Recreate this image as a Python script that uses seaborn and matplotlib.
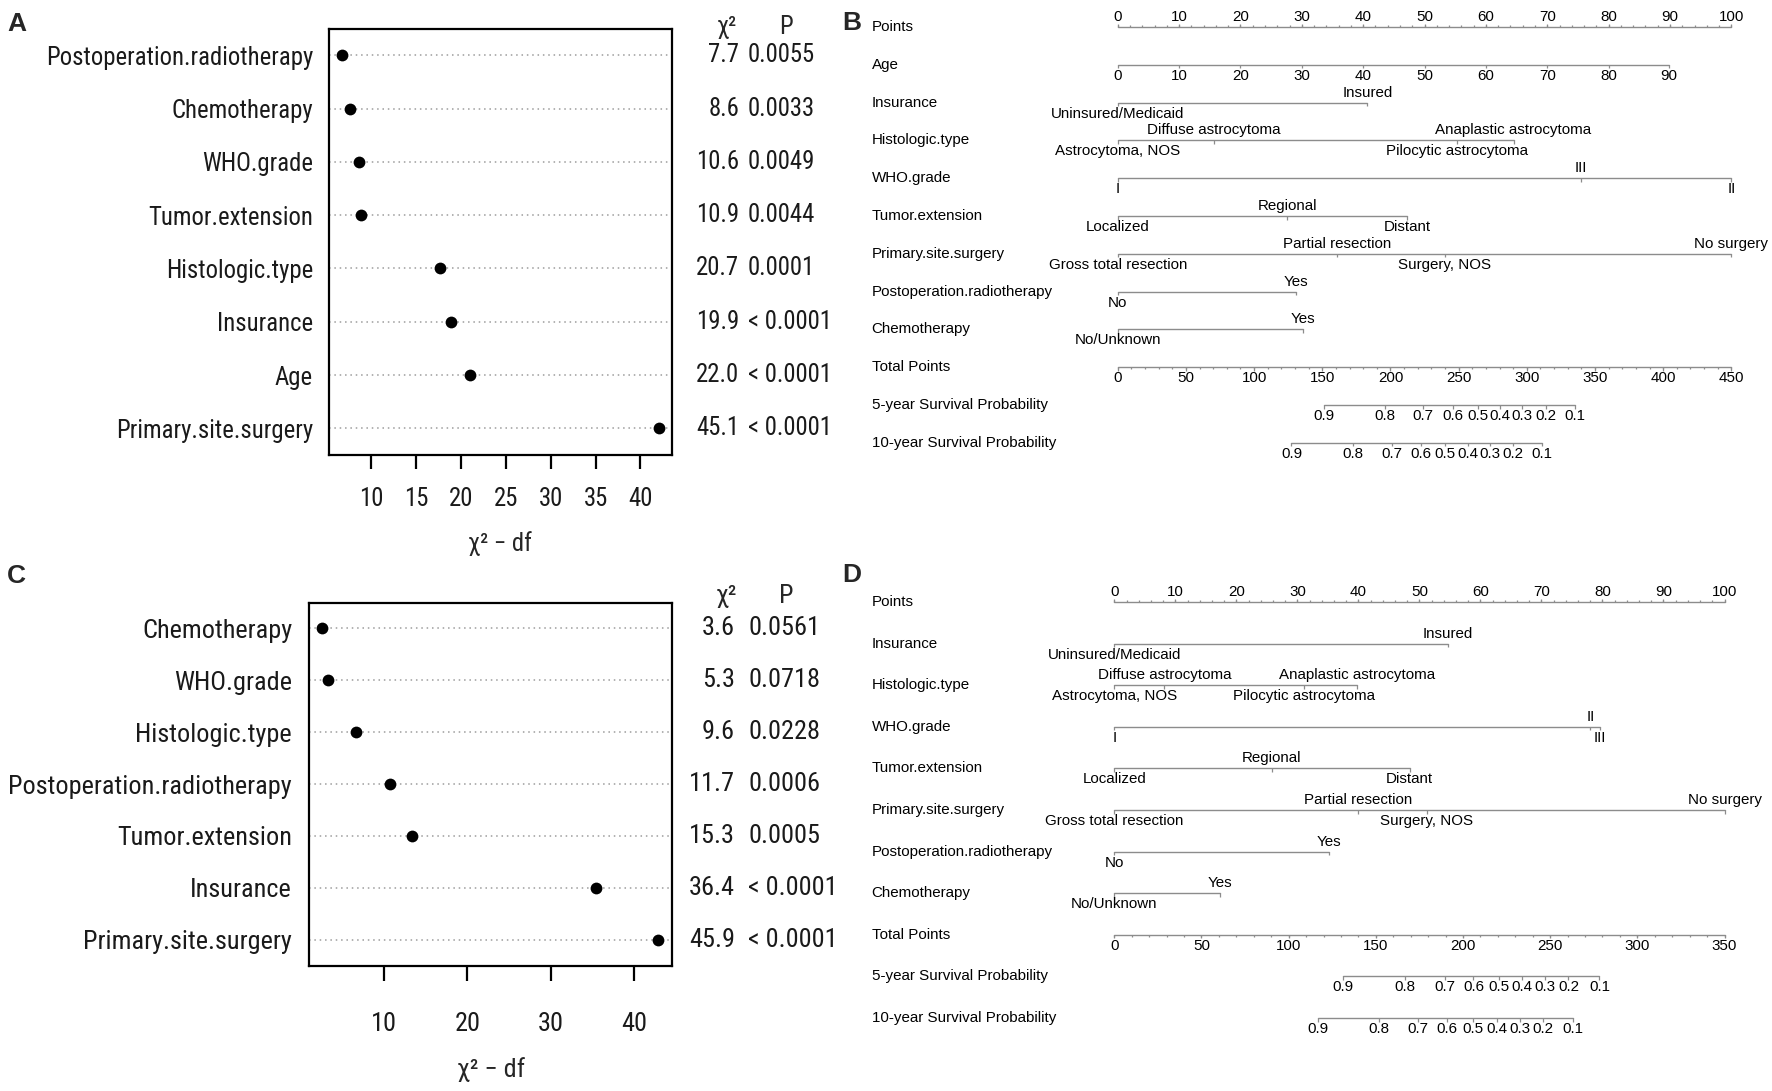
import numpy as np
import pandas as pd
import matplotlib
matplotlib.use("Agg")
import matplotlib.pyplot as plt
import seaborn as sns
from matplotlib import font_manager, transforms
from matplotlib.font_manager import FontProperties
from matplotlib.textpath import TextPath

# ---------------- data: panel A (anova dot chart) ----------------
a_vars = ["Postoperation.radiotherapy", "Chemotherapy", "WHO.grade", "Tumor.extension",
          "Histologic.type", "Insurance", "Age", "Primary.site.surgery"]
a_chi2 = [7.7, 8.6, 10.6, 10.9, 20.7, 19.9, 22.0, 45.1]
a_df = [1, 1, 2, 2, 3, 1, 1, 3]
a_p = ["0.0055", "0.0033", "0.0049", "0.0044", "0.0001", "< 0.0001", "< 0.0001", "< 0.0001"]
a_ticks = [10, 15, 20, 25, 30, 35, 40]

# ---------------- data: panel C ----------------
c_vars = ["Chemotherapy", "WHO.grade", "Histologic.type", "Postoperation.radiotherapy",
          "Tumor.extension", "Insurance", "Primary.site.surgery"]
c_chi2 = [3.6, 5.3, 9.6, 11.7, 15.3, 36.4, 45.9]
c_df = [1, 2, 3, 1, 2, 1, 3]
c_p = ["0.0561", "0.0718", "0.0228", "0.0006", "0.0005", "< 0.0001", "< 0.0001"]
c_ticks = [10, 20, 30, 40]

# ---------------- data: panel B (nomogram) ----------------
points_ticks = [0, 10, 20, 30, 40, 50, 60, 70, 80, 90, 100]
b_age_labels = [0, 10, 20, 30, 40, 50, 60, 70, 80, 90]
b_age_points = [0, 10, 20, 30, 40, 50, 60, 70, 80, 89.8]
b_ins_labels = ["Uninsured/Medicaid", "Insured"]
b_ins_points = [0, 40.7]
b_hist_labels = ["Astrocytoma, NOS", "Diffuse astrocytoma", "Pilocytic astrocytoma", "Anaplastic astrocytoma"]
b_hist_points = [0, 15.7, 55.3, 64.5]
b_who_labels = ["I", "III", "II"]
b_who_points = [0, 75.5, 100]
b_ext_labels = ["Localized", "Regional", "Distant"]
b_ext_points = [0, 27.6, 47.2]
b_surg_labels = ["Gross total resection", "Partial resection", "Surgery, NOS", "No surgery"]
b_surg_points = [0, 35.7, 53.3, 100]
b_rt_labels = ["No", "Yes"]
b_rt_points = [0, 29.0]
b_chemo_labels = ["No/Unknown", "Yes"]
b_chemo_points = [0, 30.2]
b_total_ticks = [0, 50, 100, 150, 200, 250, 300, 350, 400, 450]
surv_labels = ["0.9", "0.8", "0.7", "0.6", "0.5", "0.4", "0.3", "0.2", "0.1"]
b_surv5_total = [151.3, 196.1, 224.0, 245.6, 263.9, 280.3, 296.7, 314.1, 335.1]
b_surv10_total = [127.4, 172.2, 201.0, 222.1, 239.9, 256.6, 272.9, 290.0, 311.2]

# ---------------- data: panel D (nomogram) ----------------
d_ins_labels = ["Uninsured/Medicaid", "Insured"]
d_ins_points = [0, 54.7]
d_hist_labels = ["Astrocytoma, NOS", "Diffuse astrocytoma", "Pilocytic astrocytoma", "Anaplastic astrocytoma"]
d_hist_points = [0, 8.2, 31.1, 39.8]
d_who_labels = ["I", "II", "III"]
d_who_points = [0, 78.0, 79.6]
d_ext_labels = ["Localized", "Regional", "Distant"]
d_ext_points = [0, 25.8, 48.4]
d_surg_labels = ["Gross total resection", "Partial resection", "Surgery, NOS", "No surgery"]
d_surg_points = [0, 39.9, 51.2, 100]
d_rt_labels = ["No", "Yes"]
d_rt_points = [0, 35.2]
d_chemo_labels = ["No/Unknown", "Yes"]
d_chemo_points = [0, 17.3]
d_total_ticks = [0, 50, 100, 150, 200, 250, 300, 350]
d_surv5_total = [131.4, 166.8, 189.4, 206.0, 220.8, 234.1, 247.1, 260.5, 278.3]
d_surv10_total = [116.7, 152.0, 174.4, 190.7, 205.6, 219.4, 232.8, 246.1, 263.3]

# ---------------- styling ----------------
sns.set_theme(style="white")
plt.rcParams['font.family'] = ['Liberation Sans', 'DejaVu Sans']

ttf = font_manager.fontManager.ttflist
def has(name):
    return any(f.name == name for f in ttf)

if has('Liberation Sans Narrow'):
    NARROW_KW = dict(family=['Liberation Sans Narrow', 'DejaVu Sans'])
elif has('Roboto Condensed'):
    NARROW_KW = dict(family=['Roboto Condensed', 'DejaVu Sans'])
else:
    cands = [f for f in ttf if f.name == 'DejaVu Sans' and 'ondensed' in f.fname
             and 'Bold' not in f.fname and 'Oblique' not in f.fname]
    if cands:
        NARROW_KW = dict(fname=cands[0].fname)
    else:
        NARROW_KW = dict(family=['Liberation Sans', 'DejaVu Sans'])
ARIAL_KW = dict(family=['Liberation Sans', 'DejaVu Sans'])

def fit_size(kw, text, target_px):
    fp = FontProperties(size=10, **kw)
    w = TextPath((0, 0), text, prop=fp).get_extents().width * 100 / 72
    return 10 * target_px / w

W, H = 1772, 1091
fig = plt.figure(figsize=(W / 100, H / 100), dpi=100)
fig.patch.set_facecolor('white')

def ax_px(l, t, r, b):
    return fig.add_axes([l / W, 1 - b / H, (r - l) / W, (b - t) / H])

# ---------------- dot chart panels ----------------
def dot_panel(box, vars_, chi2, df, pvals, ticks, label_w, ylab_pad, tick_len, tick_pad,
              chi_right, p_left, head_y, chi_head_x, p_head_x, xlab_xy):
    l, t, r, b = box
    ax = ax_px(l, t, r, b)
    n = len(vars_)
    x = np.array(chi2) - np.array(df)
    data = pd.DataFrame({'variable': vars_, 'x': x, 'row': np.arange(n)})
    lo, hi = x.min(), x.max()
    e = 0.04 * (hi - lo)
    ax.hlines(data['row'], lo - e, hi + e, colors='#9c9c9c', linestyles=(0, (1, 2.5)),
              linewidth=1.1, zorder=1)
    sns.scatterplot(data=data, x='x', y='row', ax=ax, color='black', s=72,
                    linewidth=0, zorder=3, legend=False)
    ax.set_xlim(lo - e, hi + e)
    ax.set_ylim(n - 0.5, -0.5)
    fs = fit_size(NARROW_KW, 'Postoperation.radiotherapy', label_w)
    fp = FontProperties(size=fs, **NARROW_KW)
    ax.set_yticks(np.arange(n))
    ax.set_yticklabels(vars_, fontproperties=fp, color='#1a1a1a')
    ax.set_xticks(ticks)
    ax.set_xticklabels([str(v) for v in ticks], fontproperties=fp, color='#1a1a1a')
    ax.tick_params(axis='y', length=0, pad=ylab_pad * 0.72, left=False)
    ax.tick_params(axis='x', length=tick_len * 0.72, width=1.6, direction='out',
                   pad=tick_pad * 0.72, color='black', bottom=True)
    ax.set_xlabel('')
    ax.set_ylabel('')
    ax.grid(False)
    for s in ax.spines.values():
        s.set_visible(True)
        s.set_color('black')
        s.set_linewidth(1.6)
    tr = transforms.blended_transform_factory(fig.transFigure, ax.transData)
    for i in range(n):
        ax.text(chi_right / W, i, f'{chi2[i]:.1f}', transform=tr, ha='right', va='center',
                fontproperties=fp, color='#1a1a1a', clip_on=False)
        ax.text(p_left / W, i, pvals[i], transform=tr, ha='left', va='center',
                fontproperties=fp, color='#1a1a1a', clip_on=False)
    fig.text(chi_head_x / W, 1 - head_y / H, 'χ²', ha='center', va='center', fontproperties=fp)
    fig.text(p_head_x / W, 1 - head_y / H, 'P', ha='center', va='center', fontproperties=fp)
    fig.text(xlab_xy[0] / W, 1 - xlab_xy[1] / H, 'χ² − df', ha='center', va='center', fontproperties=fp)
    return ax

dot_panel((329, 28.7, 672, 455), a_vars, a_chi2, a_df, a_p, a_ticks, 265, 16, 14, 18,
          739, 748, 27, 727, 786, (500, 544))
dot_panel((309, 602.5, 671.5, 965.7), c_vars, c_chi2, c_df, c_p, c_ticks, 280, 17, 15, 31,
          735, 748, 596, 726, 786, (491, 1070))

# ---------------- nomogram panels ----------------
NFS = fit_size(ARIAL_KW, 'Postoperation.radiotherapy', 181)
NFP = FontProperties(size=NFS, **ARIAL_KW)
GRAY = '#8c8c8c'

def nomogram(area, row0, spacing, zero_px, ppp, rows, total_max):
    l, t, r, b = area
    ax = ax_px(l, t, r, b)
    ax.set_xlim((l - zero_px) / ppp, (r - zero_px) / ppp)
    ax.set_ylim((b - row0) / spacing, (t - row0) / spacing)
    ax.axis('off')
    lab_x = (871.7 - zero_px) / ppp
    tk = 3.5 / spacing
    scale = 100.0 / total_max

    def lab(x, y, s, up):
        ax.annotate(s, (x, y), xytext=(0, 10 if up else -11), textcoords='offset pixels',
                    ha='center', va='center', fontproperties=NFP, color='black')

    for i, row in enumerate(rows):
        name, kind = row[0], row[1]
        ax.text(lab_x, i, name, ha='left', va='center', fontproperties=NFP, color='black')
        if kind == 'points':
            ticks = row[2]
            ax.plot([min(ticks), max(ticks)], [i, i], color=GRAY, lw=1.0)
            minor = np.arange(min(ticks), max(ticks) + 0.1, 2)
            ax.vlines(minor, i - tk * 0.6, i, color=GRAY, lw=0.9)
            ax.vlines(ticks, i - tk, i, color=GRAY, lw=0.9)
            for v in ticks:
                lab(v, i, str(v), True)
        elif kind == 'cont':
            labels, pts = row[2], row[3]
            ax.plot([min(pts), max(pts)], [i, i], color=GRAY, lw=1.0)
            ax.vlines(pts, i, i + tk, color=GRAY, lw=0.9)
            for s, p in zip(labels, pts):
                lab(p, i, str(s), False)
        elif kind == 'cat':
            labels, pts = row[2], row[3]
            ax.plot([min(pts), max(pts)], [i, i], color=GRAY, lw=1.0)
            ax.vlines(pts, i, i + tk, color=GRAY, lw=0.9)
            order = np.argsort(pts, kind='stable')
            for k, idx in enumerate(order):
                lab(pts[idx], i, labels[idx], k % 2 == 1)
        elif kind == 'total':
            ticks = row[2]
            xs = np.array(ticks) * scale
            ax.plot([xs.min(), xs.max()], [i, i], color=GRAY, lw=1.0)
            minor = np.arange(0, total_max + 0.1, 10) * scale
            ax.vlines(minor, i, i + tk * 0.6, color=GRAY, lw=0.9)
            ax.vlines(xs, i, i + tk, color=GRAY, lw=0.9)
            for v, xv in zip(ticks, xs):
                lab(xv, i, str(v), False)
        elif kind == 'surv':
            labels, totals = row[2], row[3]
            xs = np.array(totals) * scale
            ax.plot([xs.min(), xs.max()], [i, i], color=GRAY, lw=1.0)
            ax.vlines(xs, i, i + tk, color=GRAY, lw=0.9)
            for s, xv in zip(labels, xs):
                lab(xv, i, s, False)
    return ax

b_rows = [
    ("Points", "points", points_ticks),
    ("Age", "cont", b_age_labels, b_age_points),
    ("Insurance", "cat", b_ins_labels, b_ins_points),
    ("Histologic.type", "cat", b_hist_labels, b_hist_points),
    ("WHO.grade", "cat", b_who_labels, b_who_points),
    ("Tumor.extension", "cat", b_ext_labels, b_ext_points),
    ("Primary.site.surgery", "cat", b_surg_labels, b_surg_points),
    ("Postoperation.radiotherapy", "cat", b_rt_labels, b_rt_points),
    ("Chemotherapy", "cat", b_chemo_labels, b_chemo_points),
    ("Total Points", "total", b_total_ticks),
    ("5-year Survival Probability", "surv", surv_labels, b_surv5_total),
    ("10-year Survival Probability", "surv", surv_labels, b_surv10_total),
]
d_rows = [
    ("Points", "points", points_ticks),
    ("Insurance", "cat", d_ins_labels, d_ins_points),
    ("Histologic.type", "cat", d_hist_labels, d_hist_points),
    ("WHO.grade", "cat", d_who_labels, d_who_points),
    ("Tumor.extension", "cat", d_ext_labels, d_ext_points),
    ("Primary.site.surgery", "cat", d_surg_labels, d_surg_points),
    ("Postoperation.radiotherapy", "cat", d_rt_labels, d_rt_points),
    ("Chemotherapy", "cat", d_chemo_labels, d_chemo_points),
    ("Total Points", "total", d_total_ticks),
    ("5-year Survival Probability", "surv", surv_labels, d_surv5_total),
    ("10-year Survival Probability", "surv", surv_labels, d_surv10_total),
]

nomogram((840, 0, 1772, 470), 27, 37.8, 1117.7, 6.137, b_rows, 450)
nomogram((840, 540, 1772, 1091), 602, 41.6, 1114.3, 6.102, d_rows, 350)

# ---------------- panel letters ----------------
LFP = FontProperties(size=19, weight='bold', **ARIAL_KW)
for letter, (px, py) in {"A": (7, 24), "B": (842, 23), "C": (7, 576), "D": (842, 575)}.items():
    fig.text(px / W, 1 - py / H, letter, ha='left', va='center', fontproperties=LFP)

fig.savefig("out.png", dpi=100, facecolor='white')
